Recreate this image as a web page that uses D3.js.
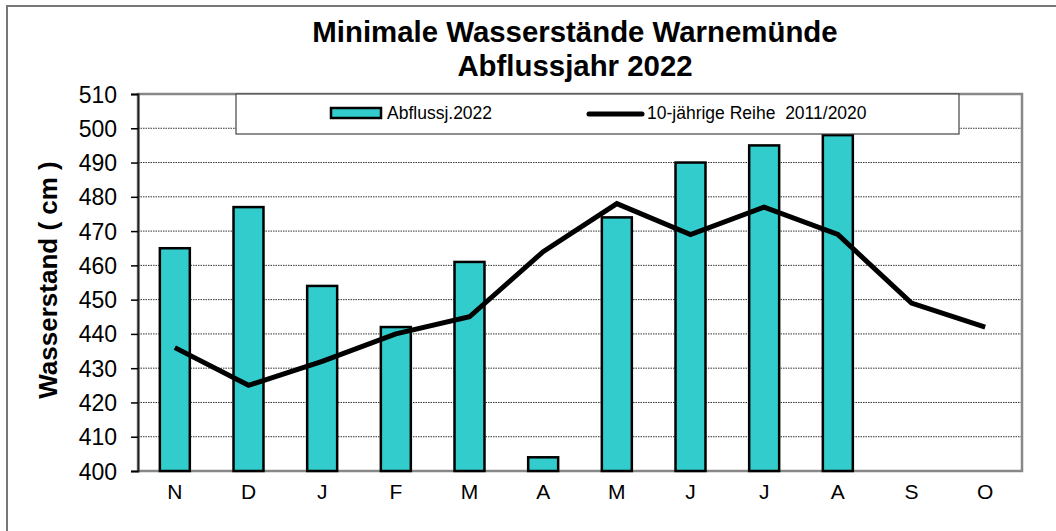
<!DOCTYPE html>
<html lang="de">
<head>
    <meta charset="UTF-8">
    <title>Minimale Wasserstände Warnemünde</title>
    <script src="https://d3js.org/d3.v7.min.js"></script>
    <style>
        body { margin: 0; background: #fff; }
        svg { display: block; font-family: "Liberation Sans", Arial, sans-serif; }
    </style>
</head>
<body>
    <script>
        var months = ["N", "D", "J", "F", "M", "A", "M", "J", "J", "A", "S", "O"];
        var abfluss2022 = [465, 477, 454, 442, 461, 404, 474, 490, 495, 498, null, null];
        var reihe20112020 = [436, 425, 432, 440, 445, 464, 478, 469, 477, 469, 449, 442];
        var yTicks = [400, 410, 420, 430, 440, 450, 460, 470, 480, 490, 500, 510];

        var w = 1056;
        var h = 531;
        var plot = { left: 138, right: 1022, top: 94, bottom: 471 };

        var svg = d3.select("body")
                    .append("svg")
                    .attr("width", w)
                    .attr("height", h);

        // outer chart frame (runs off the right / bottom edge)
        svg.append("rect")
            .attr("x", 7).attr("y", 6)
            .attr("width", 1100).attr("height", 600)
            .attr("fill", "#fff")
            .attr("stroke", "#777")
            .attr("stroke-width", 2);

        var x = d3.scaleBand()
                  .domain(d3.range(months.length))
                  .range([plot.left, plot.right])
                  .paddingInner(0.593)
                  .paddingOuter(0.2965);

        var y = d3.scaleLinear()
                  .domain([400, 510])
                  .range([plot.bottom, plot.top]);

        // grid lines
        svg.append("g")
            .selectAll("line")
            .data(yTicks.slice(1, -1))
            .enter()
            .append("line")
            .attr("x1", plot.left).attr("x2", plot.right)
            .attr("y1", function(d) { return y(d); })
            .attr("y2", function(d) { return y(d); })
            .attr("stroke", "#333")
            .attr("stroke-width", 1)
            .attr("stroke-dasharray", "1.5,1");

        // plot frame
        svg.append("rect")
            .attr("x", plot.left).attr("y", plot.top)
            .attr("width", plot.right - plot.left)
            .attr("height", plot.bottom - plot.top)
            .attr("fill", "none")
            .attr("stroke", "#888")
            .attr("stroke-width", 2.5);

        // y axis
        var yAxis = d3.axisLeft(y)
                      .tickValues(yTicks)
                      .tickSize(7)
                      .tickPadding(14)
                      .tickFormat(d3.format("d"));
        var gy = svg.append("g")
                    .attr("transform", "translate(" + plot.left + ",0)")
                    .call(yAxis);
        gy.select(".domain").attr("stroke", "#222").attr("stroke-width", 2);
        gy.selectAll(".tick line").attr("stroke", "#000").attr("stroke-width", 1.5);
        gy.selectAll(".tick text")
            .attr("font-size", "23px")
            .attr("font-family", "Liberation Sans, Arial, sans-serif")
            .attr("fill", "#000")
            .attr("dy", "0.35em");

        // x axis labels
        var xAxis = d3.axisBottom(x)
                      .tickSize(0)
                      .tickPadding(13)
                      .tickFormat(function(i) { return months[i]; });
        var gx = svg.append("g")
                    .attr("transform", "translate(0," + plot.bottom + ")")
                    .call(xAxis);
        gx.select(".domain").remove();
        gx.selectAll(".tick text")
            .attr("font-size", "21px")
            .attr("font-family", "Liberation Sans, Arial, sans-serif")
            .attr("fill", "#000");

        // bars
        svg.append("g")
            .selectAll("rect")
            .data(abfluss2022.map(function(v, i) { return { i: i, v: v }; })
                             .filter(function(d) { return d.v !== null; }))
            .enter()
            .append("rect")
            .attr("x", function(d) { return x(d.i); })
            .attr("width", x.bandwidth())
            .attr("y", function(d) { return y(d.v); })
            .attr("height", function(d) { return y(400) - y(d.v); })
            .attr("fill", "#33CCCC")
            .attr("stroke", "#000")
            .attr("stroke-width", 2.5);

        // 10-year line
        var line = d3.line()
                     .x(function(d, i) { return x(i) + x.bandwidth() / 2; })
                     .y(function(d) { return y(d); });

        svg.append("path")
            .datum(reihe20112020)
            .attr("d", line)
            .attr("fill", "none")
            .attr("stroke", "#000")
            .attr("stroke-width", 5)
            .attr("stroke-linejoin", "miter");

        // legend
        var legend = svg.append("g");
        legend.append("rect")
            .attr("x", 236).attr("y", 94)
            .attr("width", 723).attr("height", 40)
            .attr("fill", "#fff")
            .attr("stroke", "#444")
            .attr("stroke-width", 1.2);
        legend.append("rect")
            .attr("x", 331).attr("y", 108)
            .attr("width", 50).attr("height", 10)
            .attr("fill", "#33CCCC")
            .attr("stroke", "#000")
            .attr("stroke-width", 2.5);
        legend.append("text")
            .attr("x", 387).attr("y", 119)
            .attr("font-size", "17.5px")
            .text("Abflussj.2022");
        legend.append("line")
            .attr("x1", 589).attr("x2", 642)
            .attr("y1", 114).attr("y2", 114)
            .attr("stroke", "#000")
            .attr("stroke-width", 5)
            .attr("stroke-linecap", "round");
        legend.append("text")
            .attr("x", 647).attr("y", 119)
            .attr("font-size", "17.5px")
            .style("white-space", "pre")
            .text("10-jährige Reihe  2011/2020");

        // title
        svg.append("text")
            .attr("x", 575).attr("y", 42)
            .attr("text-anchor", "middle")
            .attr("font-size", "29.4px")
            .attr("font-weight", "bold")
            .text("Minimale Wasserstände Warnemünde");
        svg.append("text")
            .attr("x", 575).attr("y", 76)
            .attr("text-anchor", "middle")
            .attr("font-size", "29.4px")
            .attr("font-weight", "bold")
            .text("Abflussjahr 2022");

        // y axis title
        svg.append("text")
            .attr("transform", "translate(57,280) rotate(-90)")
            .attr("text-anchor", "middle")
            .attr("font-size", "26px")
            .attr("font-weight", "bold")
            .text("Wasserstand ( cm )");
    </script>
</body>
</html>
